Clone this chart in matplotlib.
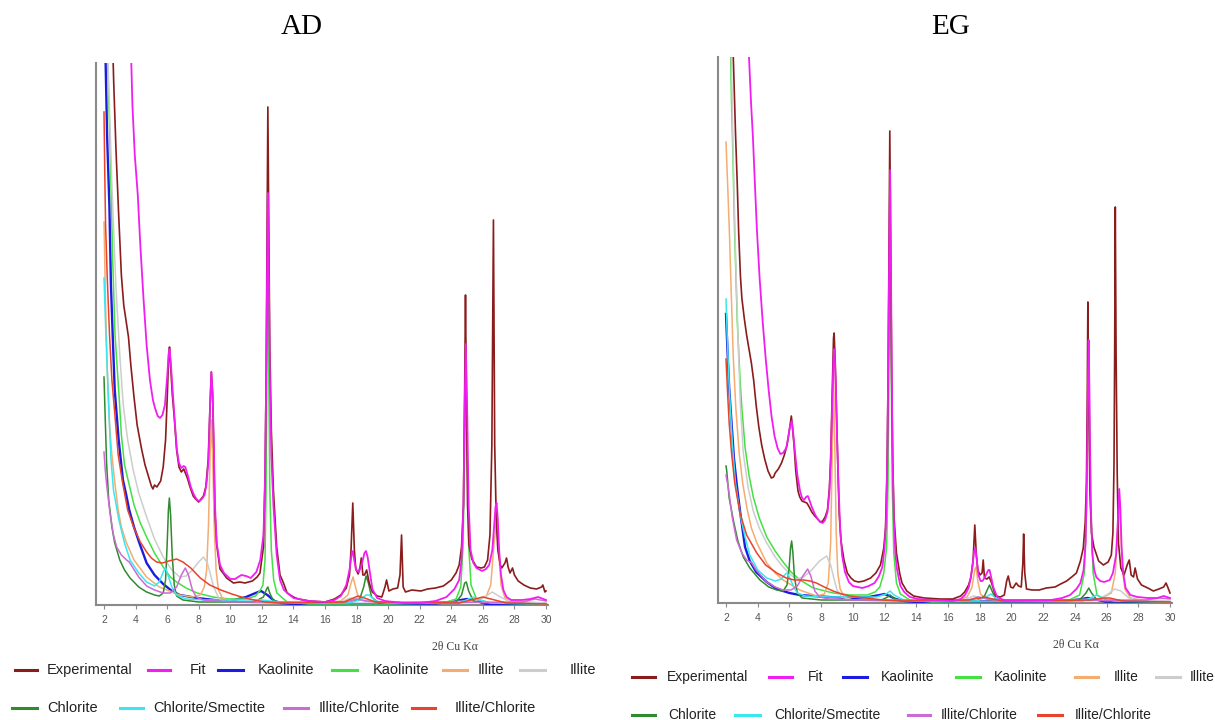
import matplotlib
matplotlib.use("Agg")
import matplotlib.pyplot as plt
from matplotlib.lines import Line2D

# ---------------- data (2θ, intensity in arbitrary units) ----------------
SERIES_NAMES = ["Experimental", "Fit", "Kaolinite", "Kaolinite", "Illite", "Illite",
                "Chlorite", "Chlorite/Smectite", "Illite/Chlorite", "Illite/Chlorite"]
SERIES_COLORS = ["#8B1C1C", "#F01EF0", "#1C1CE0", "#44E044", "#F5AC70", "#CDCDCD",
                 "#2E8B2E", "#3AE6F0", "#CC6BD4", "#E8432C"]
SERIES_WIDTHS = [1.2, 1.3, 1.7, 1.1, 1.1, 1.1, 1.1, 1.1, 1.1, 1.1]
X_TICKS = [2, 4, 6, 8, 10, 12, 14, 16, 18, 20, 22, 24, 26, 28, 30]
PANEL_TITLES = ["AD", "EG"]
X_LABEL = "2θ Cu Kα"

AD_EXPERIMENTAL = [(2.55, 560), (2.62, 520), (2.76, 455), (2.93, 390), (3.1, 330), (3.25, 300), (3.4, 284),
    (3.55, 268), (3.7, 240), (3.9, 208), (4.1, 180), (4.38, 156), (4.6, 140), (4.87, 126), (5.0, 119),
    (5.1, 116), (5.2, 120), (5.35, 118), (5.59, 124), (5.75, 138), (5.9, 165), (6.0, 205), (6.1, 250),
    (6.15, 258), (6.22, 240), (6.33, 210), (6.45, 188), (6.6, 155), (6.75, 138), (6.9, 133), (7.05, 136),
    (7.15, 132), (7.28, 127), (7.45, 118), (7.65, 109), (7.8, 106), (8.0, 103), (8.15, 106), (8.3, 109),
    (8.45, 118), (8.6, 145), (8.72, 200), (8.8, 233), (8.88, 210), (8.95, 160), (9.03, 92), (9.14, 60),
    (9.35, 36), (9.77, 27), (10.2, 22), (10.6, 23), (10.93, 22), (11.4, 24), (11.7, 28), (11.88, 32),
    (12.1, 58), (12.2, 125), (12.27, 225), (12.33, 380), (12.38, 498), (12.44, 380), (12.5, 260),
    (12.6, 175), (12.73, 115), (12.94, 58), (13.15, 30), (13.37, 22), (13.6, 12), (14.0, 8), (14.3, 6),
    (15.0, 4), (16.0, 3), (16.6, 6), (17.0, 10), (17.35, 17), (17.55, 30), (17.65, 55), (17.76, 102),
    (17.86, 55), (17.95, 36), (18.1, 31), (18.22, 38), (18.3, 47), (18.4, 30), (18.5, 30), (18.64, 35),
    (18.8, 22), (19.0, 13), (19.3, 9), (19.6, 8), (19.8, 18), (19.9, 25), (20.05, 14), (20.3, 16),
    (20.6, 17), (20.75, 30), (20.85, 70), (20.95, 18), (21.1, 13), (21.5, 15), (22.07, 14), (22.5, 16),
    (23.0, 17), (23.5, 19), (24.0, 25), (24.3, 32), (24.5, 40), (24.65, 58), (24.77, 100), (24.85, 220),
    (24.9, 310), (24.95, 220), (25.03, 100), (25.12, 60), (25.3, 46), (25.6, 38), (25.9, 37), (26.1, 38),
    (26.3, 45), (26.45, 70), (26.57, 160), (26.67, 385), (26.75, 160), (26.85, 85), (26.95, 55),
    (27.1, 40), (27.2, 37), (27.4, 42), (27.5, 47), (27.6, 38), (27.72, 32), (27.88, 37), (28.0, 30),
    (28.24, 24), (28.6, 20), (29.0, 17), (29.4, 16), (29.72, 18), (29.8, 20), (29.93, 13), (30.0, 14)]

AD_FIT = [(3.7, 560), (3.8, 500), (3.95, 450), (4.14, 410), (4.3, 360), (4.5, 307), (4.7, 260),
    (4.91, 225), (5.1, 205), (5.23, 197), (5.4, 189), (5.55, 187), (5.7, 190), (5.86, 200), (6.0, 228),
    (6.1, 252), (6.15, 256), (6.22, 245), (6.36, 212), (6.5, 180), (6.62, 155), (6.75, 142), (6.9, 137),
    (7.05, 139), (7.15, 138), (7.3, 130), (7.5, 118), (7.7, 110), (7.9, 105), (8.05, 104), (8.2, 106),
    (8.37, 110), (8.5, 122), (8.62, 145), (8.72, 200), (8.8, 233), (8.88, 212), (8.95, 165), (9.03, 100),
    (9.14, 62), (9.35, 40), (9.6, 32), (10.0, 26), (10.3, 26), (10.7, 30), (11.0, 29), (11.3, 27),
    (11.65, 33), (11.9, 45), (12.1, 70), (12.2, 125), (12.27, 220), (12.33, 330), (12.38, 412),
    (12.44, 330), (12.52, 220), (12.6, 150), (12.73, 100), (12.94, 50), (13.15, 25), (13.4, 15),
    (14.0, 7), (15.0, 4), (16.0, 3), (16.6, 5), (17.0, 9), (17.35, 20), (17.55, 35), (17.7, 52),
    (17.76, 54), (17.85, 45), (17.97, 35), (18.15, 33), (18.35, 42), (18.5, 52), (18.6, 54), (18.7, 48),
    (18.85, 32), (19.0, 16), (19.3, 7), (19.8, 4), (21.0, 2), (22.0, 2), (23.0, 4), (23.7, 8),
    (24.2, 16), (24.5, 25), (24.65, 45), (24.77, 100), (24.85, 200), (24.92, 261), (25.0, 200),
    (25.1, 100), (25.22, 55), (25.4, 42), (25.6, 37), (25.95, 34), (26.2, 36), (26.4, 40), (26.6, 55),
    (26.72, 80), (26.8, 98), (26.87, 102), (26.95, 85), (27.03, 55), (27.15, 30), (27.3, 15), (27.5, 8),
    (27.8, 5), (28.5, 5), (29.0, 6), (29.5, 8), (30.0, 5)]

AD_KAOLINITE_BLUE = [(2.08, 560), (2.2, 467), (2.34, 400), (2.44, 320), (2.55, 270), (2.68, 215),
    (2.93, 165), (3.2, 125), (3.41, 110), (3.6, 95), (3.9, 78), (4.24, 62), (4.7, 42), (5.2, 30),
    (5.75, 21), (6.3, 14), (6.8, 10), (7.9, 7), (9.0, 5), (9.9, 4), (10.5, 6), (11.0, 8), (11.6, 12),
    (11.95, 14), (12.35, 10), (12.8, 4), (13.2, 2), (14.0, 1), (18.0, 1), (21.0, 1), (23.0, 1.5),
    (24.0, 3), (24.6, 5), (25.0, 6), (25.4, 5), (25.8, 3), (26.2, 1), (30.0, 0.5)]

AD_KAOLINITE_GREEN = [(2.2, 560), (2.4, 450), (2.55, 345), (2.7, 270), (2.97, 205), (3.1, 170),
    (3.3, 140), (3.6, 120), (3.9, 100), (4.3, 82), (4.7, 68), (5.2, 52), (5.75, 38), (6.2, 28), (6.6, 23),
    (7.2, 17), (7.9, 12), (8.9, 8), (9.9, 6), (11.0, 6), (11.6, 9), (11.9, 15), (12.07, 20), (12.2, 45),
    (12.27, 120), (12.33, 250), (12.38, 360), (12.43, 250), (12.5, 120), (12.6, 55), (12.75, 25),
    (12.95, 12), (13.6, 3), (15.0, 1), (20.0, 1), (23.5, 2), (24.3, 6), (24.6, 18), (24.75, 60),
    (24.85, 160), (24.92, 215), (25.0, 160), (25.1, 60), (25.25, 20), (25.6, 6), (26.5, 2), (30.0, 1)]

AD_ILLITE_ORANGE = [(2.0, 383), (2.1, 300), (2.2, 238), (2.35, 180), (2.5, 150), (2.68, 123),
    (2.9, 95), (3.1, 78), (3.4, 63), (3.9, 45), (4.7, 28), (5.5, 18), (6.8, 10), (7.6, 8), (8.1, 10),
    (8.35, 18), (8.5, 35), (8.62, 80), (8.72, 150), (8.8, 185), (8.88, 150), (8.98, 80), (9.1, 35),
    (9.25, 15), (9.5, 7), (10.0, 4), (12.0, 2), (16.0, 2), (17.0, 4), (17.45, 10), (17.65, 22),
    (17.78, 28), (17.9, 20), (18.1, 8), (18.5, 4), (20.0, 2), (25.0, 3), (26.2, 8), (26.5, 20),
    (26.7, 60), (26.85, 82), (27.0, 55), (27.15, 20), (27.4, 7), (28.0, 3), (30.0, 2)]

AD_ILLITE_GRAY = [(2.22, 560), (2.5, 420), (2.75, 320), (3.0, 250), (3.22, 200), (3.5, 165),
    (3.85, 135), (4.2, 112), (4.7, 88), (5.2, 66), (5.75, 48), (6.3, 35), (6.8, 28), (7.2, 29),
    (7.6, 35), (8.0, 43), (8.3, 48), (8.55, 42), (8.75, 30), (8.95, 18), (9.3, 6), (9.8, 3), (12.0, 2),
    (17.0, 3), (17.6, 7), (18.2, 5), (20.0, 2), (25.5, 4), (26.2, 9), (26.6, 13), (27.0, 9), (27.6, 4),
    (30.0, 2)]

AD_CHLORITE = [(2.0, 228), (2.08, 185), (2.17, 140), (2.3, 105), (2.5, 78), (2.68, 62), (3.0, 45),
    (3.3, 35), (3.65, 27), (4.2, 18), (4.7, 13), (5.2, 10), (5.5, 9), (5.75, 12), (5.9, 25), (6.0, 60),
    (6.08, 95), (6.14, 107), (6.22, 90), (6.32, 50), (6.45, 20), (6.6, 9), (7.0, 5), (8.0, 3),
    (11.5, 3), (12.1, 8), (12.3, 16), (12.38, 18), (12.5, 12), (12.7, 5), (13.2, 2), (17.5, 2),
    (18.2, 6), (18.45, 18), (18.6, 29), (18.75, 22), (18.95, 8), (19.4, 2), (24.3, 3), (24.65, 10),
    (24.85, 22), (24.95, 23), (25.1, 14), (25.4, 4), (26.0, 2), (30.0, 1)]

AD_CHLORITE_SMECTITE = [(2.0, 327), (2.1, 280), (2.2, 238), (2.32, 190), (2.44, 146), (2.6, 115),
    (2.93, 86), (3.3, 62), (3.65, 45), (4.2, 32), (4.7, 23), (5.2, 19), (5.5, 23), (5.75, 33),
    (5.9, 37), (6.05, 30), (6.3, 18), (6.6, 10), (7.2, 6), (8.5, 5), (11.0, 5), (12.0, 5), (12.5, 4),
    (14.0, 2), (17.5, 2), (18.2, 5), (18.6, 10), (18.8, 10), (19.2, 4), (20.0, 2), (24.5, 2),
    (25.1, 6), (25.4, 8), (25.8, 5), (26.5, 2), (30.0, 1)]

AD_ILLITE_CHLORITE_VIOLET = [(2.0, 153), (2.08, 135), (2.17, 120), (2.38, 92), (2.6, 70), (2.8, 58),
    (3.1, 50), (3.43, 45), (3.6, 43), (3.8, 38), (4.2, 28), (4.7, 19), (5.2, 15), (5.75, 12),
    (6.2, 12), (6.6, 18), (6.9, 30), (7.15, 37), (7.35, 30), (7.6, 15), (7.85, 8), (8.3, 5),
    (10.0, 3), (17.3, 3), (18.0, 6), (18.6, 4), (20.0, 2), (28.5, 3), (29.3, 6), (30.0, 4)]

AD_ILLITE_CHLORITE_RED = [(2.0, 493), (2.05, 430), (2.1, 380), (2.2, 330), (2.35, 270), (2.5, 225),
    (2.68, 192), (2.9, 150), (3.17, 123), (3.5, 95), (3.9, 77), (4.3, 63), (4.7, 53), (5.0, 47),
    (5.33, 43), (5.7, 42), (6.1, 44), (6.6, 46), (7.0, 43), (7.5, 37), (8.1, 27), (8.7, 20),
    (9.4, 15), (10.1, 11), (10.7, 8), (11.5, 5), (12.2, 3), (13.0, 2), (17.2, 3), (17.8, 7),
    (18.1, 9), (18.5, 7), (19.2, 3), (24.5, 2), (25.5, 6), (26.0, 8), (26.5, 6), (27.5, 2), (30.0, 1)]

EG_EXPERIMENTAL = [(2.42, 560), (2.46, 546), (2.6, 470), (2.71, 419), (2.8, 370), (2.91, 327),
    (3.0, 305), (3.15, 285), (3.3, 268), (3.45, 254), (3.6, 240), (3.75, 222), (3.9, 198), (4.07, 176),
    (4.25, 158), (4.44, 144), (4.65, 132), (4.86, 125), (5.0, 126), (5.1, 130), (5.3, 134), (5.5, 140),
    (5.68, 148), (5.85, 158), (5.97, 170), (6.06, 180), (6.12, 187), (6.18, 178), (6.29, 158),
    (6.4, 132), (6.54, 112), (6.65, 106), (6.79, 102), (6.95, 101), (7.1, 100), (7.25, 96), (7.41, 91),
    (7.6, 87), (7.78, 84), (7.95, 81), (8.1, 82), (8.25, 86), (8.4, 93), (8.52, 115), (8.6, 144),
    (8.7, 210), (8.78, 265), (8.82, 270), (8.9, 235), (8.97, 190), (9.05, 140), (9.14, 89), (9.25, 62),
    (9.44, 43), (9.65, 30), (9.88, 25), (10.1, 22), (10.37, 21), (10.7, 22), (11.12, 25), (11.45, 30),
    (11.74, 38), (11.95, 55), (12.06, 75), (12.15, 130), (12.22, 220), (12.28, 350), (12.33, 472),
    (12.39, 350), (12.45, 220), (12.52, 140), (12.6, 85), (12.75, 50), (12.95, 30), (13.1, 20),
    (13.4, 12), (13.83, 7), (14.5, 5), (15.5, 4), (16.3, 4), (16.8, 7), (17.05, 11), (17.3, 18),
    (17.45, 26), (17.58, 42), (17.69, 78), (17.78, 50), (17.88, 33), (18.02, 28), (18.15, 30),
    (18.22, 43), (18.3, 25), (18.45, 24), (18.6, 26), (18.75, 20), (19.0, 7), (19.3, 6), (19.55, 8),
    (19.7, 22), (19.8, 27), (19.95, 16), (20.1, 15), (20.3, 20), (20.45, 17), (20.62, 16), (20.72, 40),
    (20.77, 69), (20.84, 30), (20.95, 14), (21.3, 13), (21.75, 13), (22.2, 15), (22.75, 16),
    (23.1, 19), (23.48, 22), (23.8, 26), (24.1, 30), (24.35, 42), (24.53, 55), (24.65, 80),
    (24.73, 120), (24.78, 200), (24.82, 301), (24.88, 200), (24.95, 110), (25.05, 70), (25.2, 56),
    (25.5, 42), (25.8, 38), (26.1, 41), (26.3, 48), (26.4, 70), (26.47, 140), (26.51, 250),
    (26.55, 396), (26.6, 250), (26.67, 130), (26.75, 60), (26.9, 35), (27.1, 28), (27.3, 38),
    (27.43, 43), (27.55, 28), (27.7, 26), (27.8, 35), (27.95, 24), (28.2, 18), (28.6, 15), (28.95, 12),
    (29.3, 14), (29.6, 16), (29.75, 20), (29.88, 15), (30.0, 10)]

EG_FIT = [(3.42, 560), (3.45, 546), (3.58, 500), (3.7, 465), (3.82, 420), (3.95, 373), (4.12, 325),
    (4.31, 282), (4.5, 245), (4.69, 213), (4.87, 187), (5.06, 167), (5.25, 155), (5.43, 149), (5.6, 150),
    (5.8, 155), (5.95, 168), (6.05, 178), (6.15, 182), (6.25, 168), (6.37, 148), (6.5, 128), (6.67, 112),
    (6.8, 105), (6.92, 103), (7.05, 106), (7.16, 107), (7.28, 102), (7.41, 96), (7.6, 89), (7.78, 84),
    (7.95, 81), (8.1, 80), (8.25, 83), (8.4, 91), (8.52, 110), (8.6, 140), (8.7, 200), (8.78, 245),
    (8.84, 254), (8.92, 220), (9.0, 167), (9.1, 115), (9.2, 75), (9.32, 48), (9.5, 31), (9.75, 21),
    (10.0, 17), (10.6, 15), (11.0, 17), (11.37, 20), (11.65, 27), (11.86, 36), (12.0, 55), (12.1, 85),
    (12.18, 150), (12.25, 280), (12.35, 433), (12.43, 280), (12.5, 150), (12.58, 85), (12.68, 50),
    (12.78, 34), (13.0, 17), (13.24, 11), (13.6, 6), (14.1, 4), (15.0, 3), (16.3, 2), (16.8, 4),
    (17.07, 8), (17.3, 15), (17.42, 24), (17.55, 38), (17.65, 52), (17.72, 55), (17.8, 45), (17.92, 28),
    (18.05, 22), (18.17, 22), (18.3, 25), (18.42, 29), (18.55, 33), (18.62, 33), (18.72, 26),
    (18.85, 16), (19.1, 6), (19.5, 3), (20.0, 3), (22.5, 3), (23.2, 5), (23.7, 8), (24.1, 14),
    (24.35, 20), (24.55, 33), (24.68, 60), (24.77, 140), (24.83, 230), (24.87, 263), (24.93, 200),
    (25.0, 100), (25.1, 50), (25.22, 33), (25.35, 26), (25.6, 22), (25.85, 21), (26.2, 23), (26.4, 30),
    (26.6, 48), (26.72, 85), (26.8, 114), (26.87, 95), (26.95, 55), (27.05, 30), (27.2, 15), (27.5, 8),
    (27.95, 6), (28.6, 5), (29.2, 5), (29.6, 7), (30.0, 5)]

EG_KAOLINITE_BLUE = [(2.0, 289), (2.1, 250), (2.2, 215), (2.35, 180), (2.5, 145), (2.68, 118),
    (2.9, 90), (3.2, 56), (3.5, 42), (3.9, 31), (4.57, 21), (5.2, 14), (6.0, 10), (6.65, 8), (7.5, 7),
    (8.5, 6), (10.0, 5), (11.0, 6), (11.7, 8), (12.0, 9), (12.3, 7), (12.7, 4), (13.2, 2), (14.0, 1),
    (23.5, 2), (24.4, 4), (24.8, 5), (25.2, 4), (26.0, 1), (30.0, 0.5)]

EG_KAOLINITE_GREEN = [(2.28, 560), (2.35, 500), (2.41, 465), (2.54, 373), (2.71, 282), (2.88, 225),
    (3.0, 195), (3.2, 156), (3.45, 128), (3.72, 106), (4.1, 85), (4.57, 66), (5.1, 52), (5.6, 41),
    (6.1, 31), (6.67, 23), (7.5, 15), (8.77, 10), (9.8, 8), (10.9, 8), (11.4, 11), (11.7, 16),
    (11.95, 30), (12.13, 56), (12.22, 120), (12.29, 250), (12.35, 380), (12.41, 250), (12.48, 120),
    (12.58, 50), (12.75, 20), (13.0, 9), (13.6, 3), (15.0, 1), (23.5, 2), (24.3, 8), (24.6, 30),
    (24.75, 100), (24.82, 200), (24.87, 230), (24.93, 180), (25.02, 90), (25.15, 30), (25.4, 8),
    (26.0, 3), (30.0, 1)]

EG_ILLITE_ORANGE = [(2.0, 461), (2.1, 420), (2.21, 373), (2.33, 310), (2.46, 245), (2.62, 195),
    (2.83, 150), (3.05, 120), (3.32, 95), (3.6, 75), (3.95, 60), (4.57, 40), (5.1, 30), (5.6, 23),
    (6.65, 13), (7.7, 7), (8.2, 9), (8.45, 20), (8.6, 60), (8.7, 150), (8.78, 230), (8.86, 160),
    (8.95, 70), (9.05, 30), (9.2, 14), (9.5, 5), (10.0, 3), (12.0, 2), (16.5, 2), (17.2, 6), (17.5, 15),
    (17.7, 34), (17.77, 36), (17.88, 22), (18.05, 9), (18.4, 4), (20.0, 2), (25.5, 3), (26.3, 10),
    (26.55, 30), (26.72, 80), (26.8, 95), (26.88, 75), (27.0, 35), (27.15, 14), (27.5, 5), (28.5, 2),
    (30.0, 1)]

EG_ILLITE_GRAY = [(2.32, 560), (2.45, 450), (2.6, 350), (2.75, 270), (2.9, 200), (3.09, 150),
    (3.4, 115), (3.72, 92), (4.1, 75), (4.57, 60), (5.1, 46), (5.6, 36), (6.1, 28), (6.45, 24),
    (6.9, 26), (7.4, 33), (7.9, 42), (8.35, 47), (8.6, 38), (8.8, 25), (9.0, 13), (9.3, 6), (10.0, 3),
    (12.0, 2), (17.0, 3), (17.6, 7), (18.2, 5), (20.0, 2), (25.5, 4), (26.1, 9), (26.5, 14), (26.9, 12),
    (27.4, 5), (28.0, 3), (30.0, 2)]

EG_CHLORITE = [(2.0, 137), (2.04, 133), (2.2, 105), (2.46, 83), (2.75, 62), (3.09, 46), (3.5, 35),
    (4.14, 23), (4.7, 16), (5.2, 13), (5.6, 12), (5.85, 18), (5.98, 35), (6.07, 55), (6.14, 62),
    (6.22, 50), (6.32, 25), (6.5, 10), (6.8, 5), (8.0, 3), (11.8, 3), (12.2, 6), (12.35, 8), (12.55, 5),
    (13.0, 2), (17.8, 2), (18.3, 7), (18.5, 14), (18.62, 18), (18.78, 12), (19.0, 4), (19.5, 2),
    (24.3, 3), (24.7, 10), (24.88, 15), (25.05, 10), (25.4, 3), (26.0, 1.5), (30.0, 1)]

EG_CHLORITE_SMECTITE = [(2.0, 304), (2.08, 265), (2.21, 213), (2.4, 160), (2.59, 121), (2.9, 88),
    (3.2, 66), (3.5, 48), (4.0, 33), (4.57, 25), (5.1, 22), (5.5, 24), (5.75, 29), (5.87, 30),
    (6.05, 24), (6.3, 15), (6.5, 10), (7.0, 7), (8.5, 6), (11.5, 6), (12.1, 9), (12.35, 12), (12.6, 8),
    (13.2, 3), (14.0, 2), (17.8, 2), (18.4, 6), (18.7, 9), (19.0, 5), (19.5, 2), (24.5, 2), (25.0, 5),
    (25.35, 8), (25.7, 5), (26.5, 2), (30.0, 1)]

EG_ILLITE_CHLORITE_VIOLET = [(2.0, 128), (2.15, 115), (2.4, 85), (2.67, 63), (3.0, 50), (3.3, 43),
    (3.63, 40), (3.9, 33), (4.57, 21), (5.1, 16), (5.6, 13), (6.1, 13), (6.5, 17), (6.85, 27),
    (7.15, 34), (7.35, 27), (7.6, 12), (7.9, 6), (8.5, 4), (10.0, 3), (17.3, 3), (17.9, 6), (18.5, 4),
    (20.0, 2), (28.5, 3), (29.3, 5), (30.0, 4)]

EG_ILLITE_CHLORITE_RED = [(2.0, 244), (2.1, 210), (2.2, 180), (2.35, 150), (2.55, 120), (2.88, 90),
    (3.3, 68), (3.94, 50), (4.5, 38), (5.2, 30), (5.8, 25), (6.3, 23), (6.9, 23), (7.3, 22), (7.7, 20),
    (8.2, 16), (8.75, 12), (9.3, 9), (9.8, 7), (10.8, 5), (11.9, 3), (13.0, 2), (17.3, 3), (18.0, 5),
    (18.3, 6), (18.8, 4), (19.5, 2), (25.0, 3), (25.8, 5), (26.2, 5), (27.0, 2), (30.0, 1)]

AD_SERIES = [AD_EXPERIMENTAL, AD_FIT, AD_KAOLINITE_BLUE, AD_KAOLINITE_GREEN, AD_ILLITE_ORANGE,
             AD_ILLITE_GRAY, AD_CHLORITE, AD_CHLORITE_SMECTITE, AD_ILLITE_CHLORITE_VIOLET,
             AD_ILLITE_CHLORITE_RED]
EG_SERIES = [EG_EXPERIMENTAL, EG_FIT, EG_KAOLINITE_BLUE, EG_KAOLINITE_GREEN, EG_ILLITE_ORANGE,
             EG_ILLITE_GRAY, EG_CHLORITE, EG_CHLORITE_SMECTITE, EG_ILLITE_CHLORITE_VIOLET,
             EG_ILLITE_CHLORITE_RED]

# ---------------- layout ----------------
W, H = 1215, 720
fig = plt.figure(figsize=(W / 100, H / 100), dpi=100)
fig.patch.set_facecolor("white")


def fx(px):
    return px / W


def fy(py):
    return 1 - py / H


PANELS = [
    # left px, right px, top px, bottom px, px of "2", px of "30", y top value
    dict(series=AD_SERIES, box=(96, 548, 63, 605), x2=104, x30=546, ytop=542,
         title_xy=(302, 27), xlabel_xy=(455, 647),
         leg_rows=[(670, [(15, 37, 47), (148, 170, 190), (218, 243, 258), (332, 357, 373),
                          (443, 467, 478), (520, 545, 570)]),
                   (708, [(12, 37, 47), (120, 143, 153), (284, 308, 319), (412, 435, 455)])],
         leg_size=10.5),
    dict(series=EG_SERIES, box=(718, 1172, 57, 603), x2=726, x30=1170, ytop=546,
         title_xy=(951, 27), xlabel_xy=(1076, 645),
         leg_rows=[(677, [(632, 655, 667), (769, 792, 808), (843, 867, 881), (956, 980, 994),
                          (1075, 1098, 1114), (1156, 1180, 1190)]),
                   (715, [(632, 655, 668), (735, 760, 774), (908, 930, 941), (1038, 1062, 1075)])],
         leg_size=10),
]

for p, title in zip(PANELS, PANEL_TITLES):
    l, r, t, b = p["box"]
    ax = fig.add_axes([fx(l), fy(b), fx(r) - fx(l), fy(t) - fy(b)])
    unit = (p["x30"] - p["x2"]) / 28.0
    ax.set_xlim(2 - (p["x2"] - l) / unit, 30 + (r - p["x30"]) / unit)
    ax.set_ylim(0, p["ytop"])

    order = list(range(2, 10)) + [0, 1]
    for i in order:
        pts = p["series"][i]
        xs = [q[0] for q in pts]
        ys = [q[1] for q in pts]
        ax.plot(xs, ys, color=SERIES_COLORS[i], lw=SERIES_WIDTHS[i],
                zorder=3 if i > 1 else (4 if i == 0 else 5), solid_joinstyle="round")

    for s in ["top", "right"]:
        ax.spines[s].set_visible(False)
    for s in ["left", "bottom"]:
        ax.spines[s].set_color("#8a8a8a")
        ax.spines[s].set_linewidth(1.5)
    ax.set_yticks([])
    ax.set_xticks(X_TICKS)
    ax.set_xticklabels([str(v) for v in X_TICKS], fontsize=7.5, color="#555555",
                       family="Liberation Sans")
    ax.tick_params(axis="x", length=3, width=0.8, color="#8a8a8a", pad=4)
    ax.set_facecolor("white")

    fig.text(fx(p["title_xy"][0]), fy(p["title_xy"][1]), title, ha="center", va="center",
             fontsize=21, family="Liberation Serif", color="black")
    fig.text(fx(p["xlabel_xy"][0]), fy(p["xlabel_xy"][1]), X_LABEL, ha="center", va="center",
             fontsize=8.5, family="Liberation Serif", color="#444444")

    idx = 0
    for ypx, items in p["leg_rows"]:
        for (x0, x1, xt) in items:
            fig.add_artist(Line2D([fx(x0), fx(x1)], [fy(ypx), fy(ypx)],
                                  transform=fig.transFigure, color=SERIES_COLORS[idx], lw=2.2))
            fig.text(fx(xt), fy(ypx), SERIES_NAMES[idx], ha="left", va="center",
                     fontsize=p["leg_size"], family="Liberation Sans", color="#222222")
            idx += 1

fig.savefig("out.png", dpi=100, facecolor="white")
